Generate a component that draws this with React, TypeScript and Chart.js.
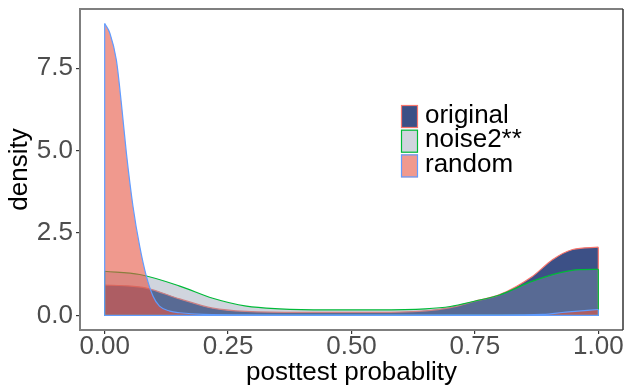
import React, { useEffect, useRef } from "react";
import { Chart, registerables } from "chart.js";

Chart.register(...registerables);

const originalX = [0, 0.04, 0.084, 0.152, 0.219, 0.287, 0.4, 0.5, 0.597, 0.698, 0.749, 0.8, 0.867, 0.907, 0.948, 1.0];
const originalY = [0.92, 0.9, 0.83, 0.5, 0.22, 0.12, 0.09, 0.09, 0.1, 0.23, 0.43, 0.63, 1.19, 1.69, 2.0, 2.07];

const noise2X = [0, 0.071, 0.152, 0.219, 0.287, 0.354, 0.45, 0.55, 0.65, 0.7, 0.749, 0.8, 0.867, 0.921, 0.962, 1.0];
const noise2Y = [1.34, 1.24, 0.89, 0.52, 0.28, 0.2, 0.17, 0.17, 0.2, 0.27, 0.43, 0.62, 1.04, 1.29, 1.39, 1.4];

const randomX = [0, 0.0107, 0.0237, 0.0338, 0.044, 0.0573, 0.0709, 0.0844, 0.098, 0.111, 0.132, 0.152, 0.2, 0.4, 0.6, 0.8, 0.887, 0.934, 1.0];
const randomY = [8.85, 8.55, 7.74, 6.43, 4.92, 3.31, 2.1, 1.19, 0.58, 0.28, 0.13, 0.08, 0.03, 0.01, 0.01, 0.01, 0.03, 0.1, 0.18];

const seriesLabels = ["original", "noise2**", "random"];

const xTicks = [0, 0.25, 0.5, 0.75, 1];
const xTickLabels = ["0.00", "0.25", "0.50", "0.75", "1.00"];
const yTicks = [0, 2.5, 5, 7.5];
const yTickLabels = ["0.0", "2.5", "5.0", "7.5"];

const FONT = '"Liberation Sans", Arial, Helvetica, sans-serif';

const styles = [
  { fill: "rgb(60,80,134)", border: "#F8766D" },
  { fill: "rgba(135,148,171,0.39)", border: "#00BA38" },
  { fill: "rgba(230,85,67,0.6)", border: "#619CFF" },
];

const toPts = (xs: number[], ys: number[]) => xs.map((x, i) => ({ x, y: ys[i] }));
const edgePts = (xs: number[], ys: number[]) => [
  { x: xs[0], y: ys[0] },
  { x: xs[0], y: 0 },
  { x: xs[xs.length - 1], y: 0 },
  { x: xs[xs.length - 1], y: ys[ys.length - 1] },
];

const legendPlugin = {
  id: "customLegend",
  afterDraw(chart: any) {
    const ctx = chart.ctx;
    ctx.save();
    const x0 = 401;
    const y0 = 105;
    const w = 17;
    const h = 23;
    const gap = 24.7;
    seriesLabels.forEach((label, i) => {
      const y = y0 + i * gap;
      ctx.fillStyle = "#ffffff";
      ctx.fillRect(x0, y, w, h);
      ctx.fillStyle = styles[i].fill;
      ctx.fillRect(x0, y, w, h);
      ctx.strokeStyle = styles[i].border;
      ctx.lineWidth = 1.2;
      ctx.strokeRect(x0 + 0.5, y + 0.5, w - 1, h - 1);
      ctx.fillStyle = "#000000";
      ctx.font = `26px ${FONT}`;
      ctx.textBaseline = "middle";
      ctx.textAlign = "left";
      ctx.fillText(label, 425, y + h / 2 - 1);
    });
    ctx.restore();
  },
};

const borderPlugin = {
  id: "panelBorder",
  afterDatasetsDraw(chart: any) {
    const { ctx, chartArea } = chart;
    const { left, right, top, bottom } = chartArea;
    ctx.save();
    ctx.lineWidth = 2;
    ctx.strokeStyle = "#7f7f7f";
    ctx.beginPath();
    ctx.moveTo(right, top);
    ctx.lineTo(left, top);
    ctx.lineTo(left, bottom);
    ctx.lineTo(right, bottom);
    ctx.stroke();
    ctx.strokeStyle = "#333333";
    ctx.lineWidth = 1.5;
    ctx.beginPath();
    ctx.moveTo(right, top);
    ctx.lineTo(right, bottom);
    ctx.stroke();
    ctx.restore();
  },
};

export default function App() {
  const canvasRef = useRef<HTMLCanvasElement | null>(null);

  useEffect(() => {
    if (!canvasRef.current) return;
    const common = {
      pointRadius: 0,
      pointHoverRadius: 0,
      borderWidth: 1.2,
    };
    const filled = (xs: number[], ys: number[], i: number, order: number) => ({
      ...common,
      label: seriesLabels[i],
      data: toPts(xs, ys),
      fill: "origin",
      backgroundColor: styles[i].fill,
      borderColor: styles[i].border,
      cubicInterpolationMode: "monotone",
      order,
    });
    const edge = (xs: number[], ys: number[], i: number, order: number) => ({
      ...common,
      label: seriesLabels[i] + " edge",
      data: edgePts(xs, ys),
      fill: false,
      tension: 0,
      borderColor: styles[i].border,
      backgroundColor: "transparent",
      order,
    });

    const chart = new Chart(canvasRef.current, {
      type: "line",
      data: {
        datasets: [
          filled(originalX, originalY, 0, 3),
          edge(originalX, originalY, 0, 2.9),
          filled(noise2X, noise2Y, 1, 2),
          edge(noise2X, noise2Y, 1, 1.9),
          filled(randomX, randomY, 2, 1),
          edge(randomX, randomY, 2, 0.9),
        ] as any,
      },
      options: {
        animation: false,
        responsive: true,
        maintainAspectRatio: false,
        layout: { padding: { top: 9, right: 1, left: 0, bottom: 0 } },
        plugins: {
          legend: { display: false },
          tooltip: { enabled: false },
        },
        scales: {
          x: {
            type: "linear",
            position: "bottom",
            min: -0.05,
            max: 1.05,
            afterBuildTicks: (scale: any) => {
              scale.ticks = xTicks.map((v) => ({ value: v }));
            },
            afterFit: (scale: any) => {
              scale.height = 58;
              scale.paddingLeft = 0;
              scale.paddingRight = 0;
            },
            ticks: {
              autoSkip: false,
              maxRotation: 0,
              padding: 0,
              color: "#4D4D4D",
              font: { family: FONT, size: 26, lineHeight: 1 },
              callback: (value: any) => {
                const idx = xTicks.indexOf(Number(value));
                return idx >= 0 ? xTickLabels[idx] : "";
              },
            },
            grid: {
              display: true,
              drawOnChartArea: false,
              drawTicks: true,
              tickLength: 4,
              color: "#333333",
              lineWidth: 1.2,
            },
            border: { display: false },
            title: {
              display: true,
              text: "posttest probablity",
              color: "#000000",
              font: { family: FONT, size: 26, lineHeight: 1.2 },
              padding: { top: 0, bottom: 0 },
            },
          },
          y: {
            type: "linear",
            min: -0.4425,
            max: 9.2925,
            afterBuildTicks: (scale: any) => {
              scale.ticks = yTicks.map((v) => ({ value: v }));
            },
            afterFit: (scale: any) => {
              scale.width = 80;
              scale.paddingTop = 0;
              scale.paddingBottom = 0;
            },
            ticks: {
              autoSkip: false,
              padding: 3,
              color: "#4D4D4D",
              font: { family: FONT, size: 26, lineHeight: 1 },
              callback: (value: any) => {
                const idx = yTicks.indexOf(Number(value));
                return idx >= 0 ? yTickLabels[idx] : "";
              },
            },
            grid: {
              display: true,
              drawOnChartArea: false,
              drawTicks: true,
              tickLength: 4,
              color: "#333333",
              lineWidth: 1.2,
            },
            border: { display: false },
            title: {
              display: true,
              text: "density",
              color: "#000000",
              font: { family: FONT, size: 26, lineHeight: 1.2 },
              padding: { top: 4, bottom: 0 },
            },
          },
        },
      } as any,
      plugins: [borderPlugin, legendPlugin],
    });
    return () => chart.destroy();
  }, []);

  return (
    <div style={{ position: "absolute", left: 0, top: 0, width: 624, height: 388, background: "#ffffff" }}>
      <canvas ref={canvasRef} />
    </div>
  );
}
